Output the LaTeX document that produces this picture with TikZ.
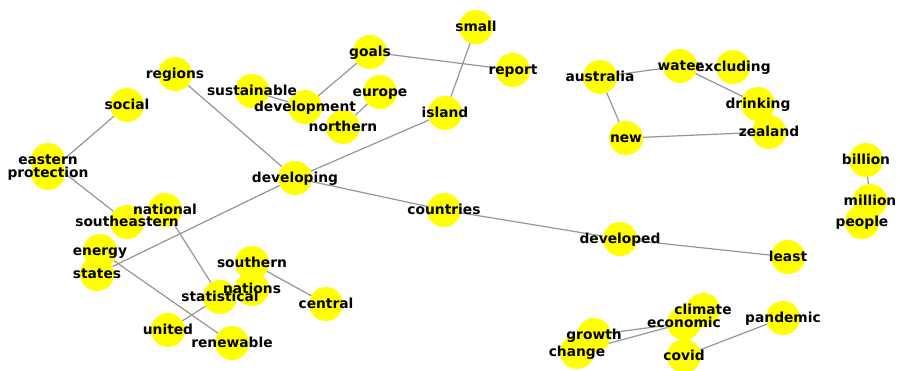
\documentclass[tikz,border=0pt]{standalone}
\usepackage{fontspec}
\setmainfont{DejaVu Sans}
\usetikzlibrary{backgrounds}
\definecolor{nodeyellow}{RGB}{255,255,0}
\definecolor{edgegray}{RGB}{150,150,150}

\begin{document}
\begin{tikzpicture}[x=1pt, y=-1pt,
  dot/.style={circle, fill=nodeyellow, draw=none, minimum size=34pt, inner sep=0pt},
  word/.style={anchor=center, inner sep=0pt, text height=10.6pt, text depth=1pt, text=black,
               font=\fontsize{13.8}{16}\selectfont\bfseries},
  link/.style={draw=edgegray, line width=1.2pt}]

  %% ════ 圆点（节点）════
  \node[dot] (small)        at (476,27)  {};
  \node[dot] (goals)        at (370,52)  {};
  \node[dot] (report)       at (513,70)  {};
  \node[dot] (regions)      at (175,74)  {};
  \node[dot] (sustainable)  at (252,91)  {};
  \node[dot] (development)  at (305,107) {};
  \node[dot] (europe)       at (380,92)  {};
  \node[dot] (northern)     at (343,127) {};
  \node[dot] (island)       at (445,113) {};
  \node[dot] (social)       at (127,105) {};
  \node[dot] (eastern)      at (48,160)  {};
  \node[dot] (protection)   at (48,173)  {};
  \node[dot] (developing)   at (295,178) {};
  \node[dot] (countries)    at (444,210) {};
  \node[dot] (developed)    at (620,239) {};
  \node[dot] (least)        at (788,257) {};
  \node[dot] (national)     at (165,210) {};
  \node[dot] (southeastern) at (127,222) {};
  \node[dot] (energy)       at (100,251) {};
  \node[dot] (states)       at (97,274)  {};
  \node[dot] (southern)     at (252,263) {};
  \node[dot] (nations)      at (252,289) {};
  \node[dot] (statistical)  at (220,297) {};
  \node[dot] (central)      at (326,304) {};
  \node[dot] (united)       at (168,330) {};
  \node[dot] (renewable)    at (232,343) {};
  \node[dot] (australia)    at (600,77)  {};
  \node[dot] (water)        at (680,66)  {};
  \node[dot] (excluding)    at (733,67)  {};
  \node[dot] (drinking)     at (758,104) {};
  \node[dot] (zealand)      at (769,132) {};
  \node[dot] (new)          at (626,138) {};
  \node[dot] (billion)      at (866,160) {};
  \node[dot] (million)      at (870,201) {};
  \node[dot] (people)       at (862,222) {};
  \node[dot] (climate)      at (703,310) {};
  \node[dot] (economic)     at (684,323) {};
  \node[dot] (covid)        at (684,356) {};
  \node[dot] (growth)       at (594,335) {};
  \node[dot] (change)       at (577,352) {};
  \node[dot] (pandemic)     at (783,318) {};

  %% ════ 连线（压在圆点下面）════
  \begin{scope}[on background layer]
    \fill[white] (0,0) rectangle (898,370);
    \draw[link] (small) -- (island);
    \draw[link] (goals) -- (report);
    \draw[link] (goals) -- (development);
    \draw[link] (sustainable) -- (development);
    \draw[link] (europe) -- (northern);
    \draw[link] (island) -- (developing);
    \draw[link] (regions) -- (developing);
    \draw[link] (developing) -- (countries);
    \draw[link] (countries) -- (developed);
    \draw[link] (developed) -- (least);
    \draw[link] (developing) -- (states);
    \draw[link] (energy) -- (renewable);
    \draw[link] (national) -- (statistical);
    \draw[link] (eastern) -- (southeastern);
    \draw[link] (social) -- (protection);
    \draw[link] (southern) -- (central);
    \draw[link] (united) -- (statistical);
    \draw[link] (australia) -- (water);
    \draw[link] (australia) -- (new);
    \draw[link] (water) -- (drinking);
    \draw[link] (new) -- (zealand);
    \draw[link] (billion) -- (million);
    \draw[link] (growth) -- (economic);
    \draw[link] (change) -- (economic);
    \draw[link] (covid) -- (pandemic);
  \end{scope}

  %% ════ 标签（最上层）════
  \node[word] (t-small)        at (small)        {small};
  \node[word] (t-goals)        at (goals)        {goals};
  \node[word] (t-report)       at (report)       {report};
  \node[word] (t-regions)      at (regions)      {regions};
  \node[word] (t-sustainable)  at (sustainable)  {sustainable};
  \node[word] (t-development)  at (development)  {development};
  \node[word] (t-europe)       at (europe)       {europe};
  \node[word] (t-northern)     at (northern)     {northern};
  \node[word] (t-island)       at (island)       {island};
  \node[word] (t-social)       at (social)       {social};
  \node[word] (t-eastern)      at (eastern)      {eastern};
  \node[word] (t-protection)   at (protection)   {protection};
  \node[word] (t-developing)   at (developing)   {developing};
  \node[word] (t-countries)    at (countries)    {countries};
  \node[word] (t-developed)    at (developed)    {developed};
  \node[word] (t-least)        at (least)        {least};
  \node[word] (t-national)     at (national)     {national};
  \node[word] (t-southeastern) at (southeastern) {southeastern};
  \node[word] (t-energy)       at (energy)       {energy};
  \node[word] (t-states)       at (states)       {states};
  \node[word] (t-southern)     at (southern)     {southern};
  \node[word] (t-nations)      at (nations)      {nations};
  \node[word] (t-statistical)  at (statistical)  {statistical};
  \node[word] (t-central)      at (central)      {central};
  \node[word] (t-united)       at (united)       {united};
  \node[word] (t-renewable)    at (renewable)    {renewable};
  \node[word] (t-australia)    at (australia)    {australia};
  \node[word] (t-water)        at (water)        {water};
  \node[word] (t-excluding)    at (excluding)    {excluding};
  \node[word] (t-drinking)     at (drinking)     {drinking};
  \node[word] (t-zealand)      at (zealand)      {zealand};
  \node[word] (t-new)          at (new)          {new};
  \node[word] (t-billion)      at (billion)      {billion};
  \node[word] (t-million)      at (million)      {million};
  \node[word] (t-people)       at (people)       {people};
  \node[word] (t-climate)      at (climate)      {climate};
  \node[word] (t-economic)     at (economic)     {economic};
  \node[word] (t-covid)        at (covid)        {covid};
  \node[word] (t-growth)       at (growth)       {growth};
  \node[word] (t-change)       at (change)       {change};
  \node[word] (t-pandemic)     at (pandemic)     {pandemic};

  % 钉死画布
  \pgfresetboundingbox
  \path[use as bounding box] (0,0) rectangle (898,370);
\end{tikzpicture}
\end{document}
